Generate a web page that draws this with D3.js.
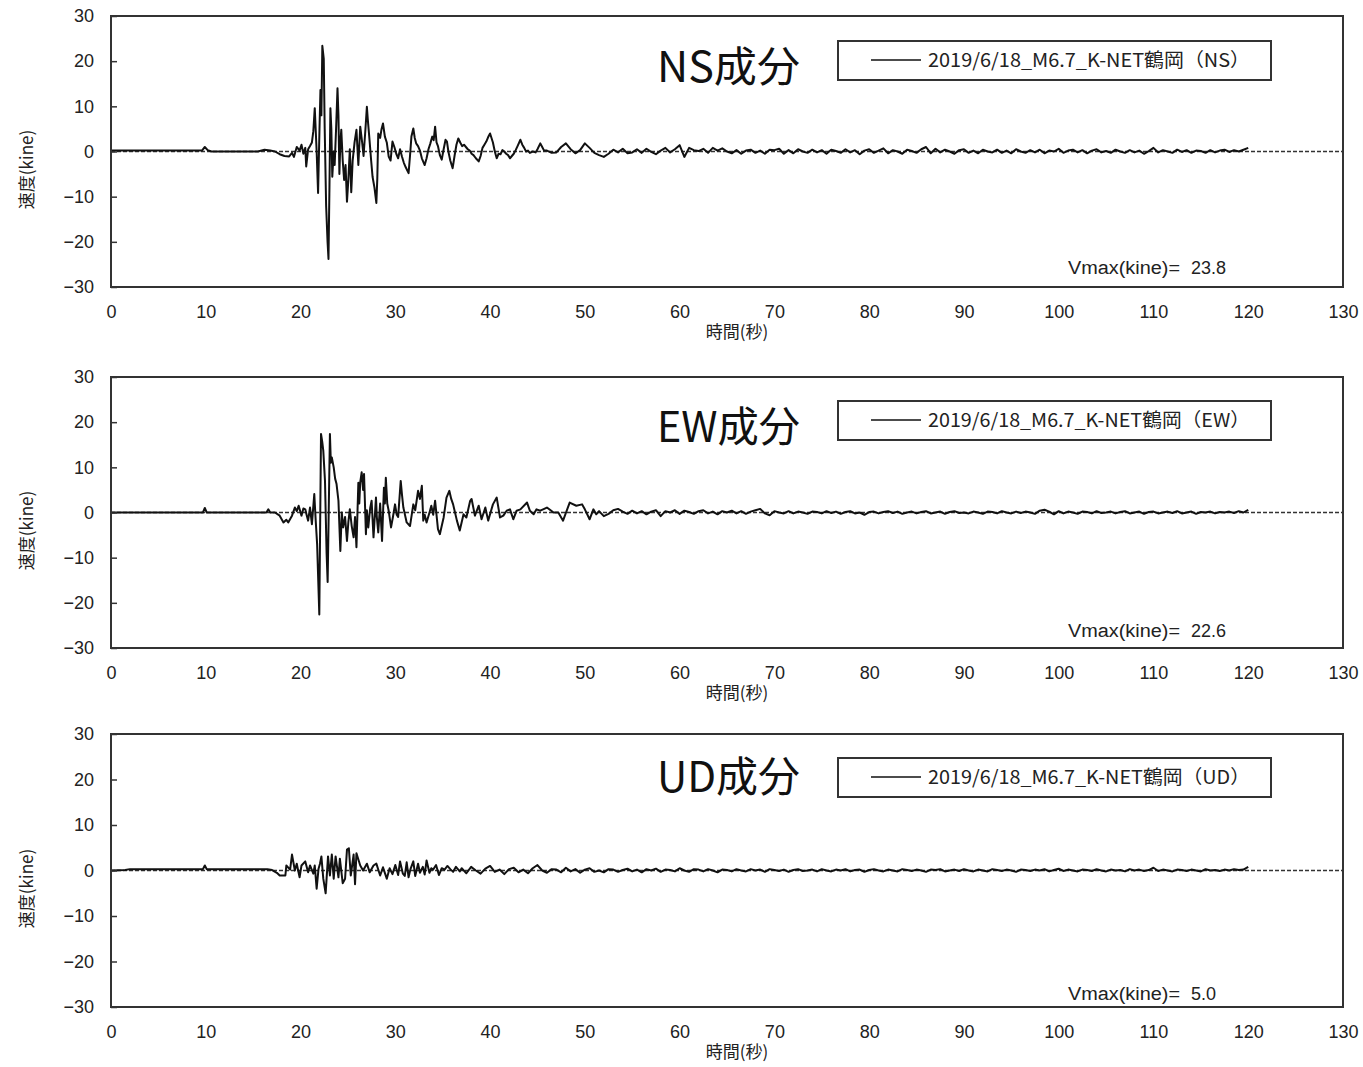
<!DOCTYPE html>
<html>
<head>
<meta charset="utf-8">
<script src="https://cdn.jsdelivr.net/npm/d3@7"></script>
<style>
  html, body { margin: 0; padding: 0; background: #fff; }
  svg { display: block; }
  .tick text { font-family: "Liberation Sans", Arial, sans-serif; font-size: 18px; fill: #222; }
</style>
</head>
<body>
<svg id="chart" width="1363" height="1067"></svg>
<script>
// ---- axis settings ----
const xTicks = [0, 10, 20, 30, 40, 50, 60, 70, 80, 90, 100, 110, 120, 130];
const yTicks = [-30, -20, -10, 0, 10, 20, 30];
const components = ["NS", "EW", "UD"];
const stationLabel = "2019/6/18_M6.7_K-NET鶴岡";
const xTitle = "時間(秒)";
const yTitle = "速度(kine)";
const codaStep = 0.5; // seconds between coda samples

// ---- NS velocity (kine) ----
const nsMain = [
  [0,0.2],[9.6,0.2],[9.9,1.0],[10.2,0.3],[10.6,0.0],[15.5,0.0],[16.2,0.4],[16.8,0.2],[17.3,0.0],
  [17.8,-0.6],[18.3,-1.0],[18.8,-1.1],[19.1,-0.3],[19.3,-1.2],[19.6,1.0],[19.9,0.2],[20.1,1.5],
  [20.3,-0.5],[20.5,0.8],[20.6,-3.3],[20.8,0.5],[21.0,1.2],[21.2,2.0],[21.35,4.5],[21.5,9.6],
  [21.7,0.0],[21.85,-9.2],[22.0,5],[22.1,13.6],[22.2,8],[22.3,23.4],[22.45,20.5],[22.55,5],
  [22.7,-12],[22.85,-20],[22.95,-23.8],[23.05,-8],[23.15,9.6],[23.25,5],[23.35,-5.6],[23.5,0],
  [23.6,-3],[23.75,5],[23.9,14],[24.0,8],[24.1,-5],[24.2,2],[24.3,4.8],[24.45,-2],[24.6,-6.3],
  [24.75,-3],[24.9,-11.1],[25.05,-6],[25.2,0.5],[25.35,-9],[25.5,-2],[25.7,2],[25.9,4.8],
  [26.1,-3],[26.3,5.5],[26.5,2],[26.65,-1],[26.85,5],[27.0,9.9],[27.1,7],[27.25,3.3],[27.45,-2],
  [27.6,-5.6],[27.8,-8],[28.0,-11.4],[28.1,-6],[28.2,4],[28.4,3],[28.55,5],[28.7,6.2],[28.9,3.3],
  [29.1,2],[29.3,-1.1],[29.5,-2],[29.7,2.2],[29.9,1],[30.1,-0.5],[30.3,-1.5],[30.5,0.5],
  [30.7,-1.1],[30.9,-2.5],[31.1,-3.5],[31.4,-4.8],[31.55,-1],[31.7,3.3],[31.9,5.1],[32.05,3],
  [32.2,1.8],[32.4,1.2],[32.6,0.2],[32.8,-1.5],[33.1,-3],[33.3,-1.5],[33.5,0.5],[33.7,1.8],
  [33.9,3.3],[34.05,2.5],[34.2,5.5],[34.35,2],[34.5,1.2],[34.7,-0.8],[34.9,-1.8],[35.1,0.5],
  [35.3,2.6],[35.45,2.2],[35.6,0],[35.8,-2],[36.05,-3.7],[36.25,-1],[36.45,1.5],[36.65,2.9],
  [36.85,2],[37.05,1.2],[37.25,1.5],[37.45,1],[37.65,0.5],[37.85,0.2],[38.05,-0.5],[38.25,-0.8],
  [38.5,-1.5],[38.8,-2.2],[39.0,-1],[39.2,0.8],[39.4,1.5],[39.6,2.2],[39.8,3.2],[40.0,4.0],
  [40.15,3],[40.3,2],[40.5,0],[40.7,-1.5],[40.9,-0.5],[41.1,-0.6],[41.3,0.3],[41.5,0],[41.7,-0.5],
  [41.9,-0.8],[42.1,-1.5],[42.3,-1],[42.5,-0.5],[42.7,0.3],[42.9,1.2],[43.2,2.6],[43.4,1.5],
  [43.6,0.8],[43.8,0],[44.0,0.2],[44.2,-0.3],[44.5,0.0],[44.8,-0.2],[45.0,0.5],[45.3,1.8],
  [45.5,1.0],[45.7,0.2]
];
const nsCodaStart = 46;
const nsCoda = [
  0.2, -0.3, -0.2, 1.0, 1.8, 0.5, -0.4, 0.3, 1.8, 0.8,
  -0.3, -0.8, -1.2, -0.5, 0.4, -0.2, 0.6, -0.4, -0.2, 0.5,
  -0.3, 0.6, -0.1, -0.6, 0.2, 0.8, -0.2, 0.5, 1.4, -1.2,
  0.8, 0.3, 0.1, 0.6, -0.3, 0.8, 0.2, 0.7, 0.0, -0.4,
  0.3, -0.5, 0.2, 0.4, -0.3, 0.2, -0.5, 0.4, 0.3, 0.6,
  -0.5, 0.3, -0.4, 0.5, 0.0, -0.3, 0.4, -0.2, 0.3, -0.5,
  0.4, 0.1, -0.3, 0.5, -0.2, 0.3, -0.6, 0.2, 0.5, -0.3,
  0.2, 0.7, -0.4, 0.3, 0.0, -0.5, 0.4, 0.1, -0.3, 0.5,
  1.0, -0.4, 0.6, -0.2, 0.4, 0.0, -0.5, 0.3, 0.5, -0.3,
  0.2, -0.4, 0.4, 0.0, -0.2, 0.4, -0.3, 0.2, -0.4, 0.5,
  0.0, -0.3, 0.3, -0.2, 0.4, -0.4, 0.2, 0.0, 0.6, -0.3,
  0.2, 0.4, -0.2, 0.3, -0.4, 0.2, 0.5, -0.2, 0.1, -0.3,
  0.4, 0.0, -0.3, 0.3, -0.2, 0.2, -0.5, 0.1, 0.8, -0.2,
  0.3, 0.0, -0.3, 0.4, -0.1, 0.3, -0.3, 0.2, 0.1, -0.3,
  0.3, -0.2, 0.2, 0.4, -0.1, 0.3, 0.0, 0.4, 0.8
];

// ---- EW velocity (kine) ----
const ewMain = [
  [0,0],[9.7,0],[9.9,1.0],[10.1,0],[16.4,0],[16.6,0.7],[16.8,0],[17.3,0],[17.8,-0.7],[18.2,-2.2],
  [18.5,-1.6],[18.7,-2.2],[19.1,-0.7],[19.4,1.1],[19.6,0.3],[19.8,1.5],[20.1,-0.7],[20.3,0.9],
  [20.5,0.7],[20.65,-0.6],[20.8,-1.8],[21.0,1.1],[21.2,-2.6],[21.45,4.1],[21.6,-1.8],[21.75,-7],
  [21.98,-22.6],[22.16,17.4],[22.3,15.5],[22.4,13.7],[22.58,7],[22.75,-9],[22.86,-15.4],
  [23.1,17.4],[23.2,11],[23.3,12.2],[23.5,10],[23.65,7.5],[23.8,6.3],[24.0,2.6],[24.2,-8.5],
  [24.35,0],[24.5,-3.3],[24.7,-1],[24.9,-6.3],[25.05,-2],[25.2,0.7],[25.4,-3],[25.6,-5.5],
  [25.75,-1],[25.9,-7.7],[26.1,6.6],[26.2,2],[26.3,6.7],[26.45,8.9],[26.6,5],[26.7,8.5],
  [26.9,-4.8],[27.0,0.5],[27.15,-3.3],[27.35,1],[27.5,2.6],[27.7,-5.5],[27.96,3.3],[28.05,-1],
  [28.2,-4.4],[28.4,2],[28.6,-6.3],[28.8,5.5],[28.9,2],[29.0,7.7],[29.15,2],[29.3,0.4],
  [29.55,-3.3],[29.75,-1],[29.97,1.8],[30.15,-0.5],[30.3,-1],[30.57,7],[30.7,4],[30.85,1.1],
  [31.2,-2.2],[31.55,-3],[31.9,1.8],[32.1,0.5],[32.25,2.6],[32.4,4.8],[32.6,3],[32.8,5.9],
  [32.95,-1.8],[33.1,-0.5],[33.3,-2.2],[33.66,0.4],[33.8,1.5],[34.0,-0.5],[34.2,2.6],[34.5,-3.7],
  [34.7,-4.8],[35.1,-1.1],[35.4,3.3],[35.7,4.8],[35.9,3],[36.1,1.8],[36.5,-1.8],[36.8,-4],
  [37.2,-0.4],[37.5,-1.1],[37.9,2.6],[38.05,3],[38.4,-0.7],[38.8,1.5],[39.1,-1.5],[39.5,1.1],
  [39.8,-1.8],[40.3,1.8],[40.7,3.3],[41.05,-1.1],[41.4,-0.7],[41.75,0.4],[42.1,0.7],[42.45,-1.5],
  [42.8,0.4],[43.2,0.7],[43.9,2.2],[44.2,0.4],[44.6,-0.4],[44.9,0.7],[45.3,0.4],[46.0,1.1],
  [46.7,0],[47.2,0],[47.7,-1.8],[48.4,2.2],[49.1,1.5],[49.7,1.8],[50.0,0.7],[50.5,-1.5],
  [50.9,0.7],[51.2,-0.4]
];
const ewCodaStart = 51.5;
const ewCoda = [
  0.3, -0.8, -0.3, 0.5, 0.8, 0.2, -0.3, 0.4, -0.2, 0.3,
  -0.4, 0.2, 0.5, -0.8, 0.3, 0.0, 0.5, -0.3, 0.4, 0.1,
  -0.3, 0.3, 0.5, -0.2, 0.2, -0.4, 0.3, 0.0, 0.4, -0.2,
  0.3, -0.3, 0.2, 0.5, 0.8, -0.2, -0.6, 0.3, 0.0, -0.2,
  0.3, -0.2, 0.2, 0.0, -0.3, 0.2, 0.1, -0.2, 0.3, -0.1,
  0.2, -0.3, 0.1, 0.3, -0.2, 0.0, -0.5, 0.1, 0.2, -0.2,
  0.1, 0.3, -0.1, 0.2, -0.3, 0.0, 0.2, -0.2, 0.1, 0.3,
  -0.2, 0.0, 0.2, -0.3, 0.1, 0.3, -0.1, 0.0, -0.2, 0.2,
  0.0, -0.3, 0.2, 0.1, -0.2, 0.3, 0.0, -0.2, 0.2, -0.1,
  0.2, 0.0, -0.3, 0.4, 0.6, 0.2, -0.4, 0.3, -0.2, 0.2,
  0.0, -0.3, 0.2, 0.1, -0.2, 0.3, -0.1, 0.0, 0.2, -0.2,
  0.1, 0.3, -0.2, 0.0, 0.2, -0.3, 0.1, 0.2, -0.2, 0.0,
  0.2, -0.1, 0.3, -0.2, 0.0, 0.2, -0.3, 0.1, 0.0, 0.2,
  -0.2, 0.1, 0.0, 0.2, -0.1, 0.3, 0.0, 0.6
];

// ---- UD velocity (kine) ----
const udMain = [
  [0,0],[1.5,0.1],[2.0,0.3],[9.7,0.3],[9.9,1.1],[10.1,0.3],[16.5,0.3],[17.0,0.1],[17.5,-0.5],
  [17.8,-1.1],[18.4,-1.1],[18.5,1.1],[18.9,0.2],[19.1,3.5],[19.4,0],[19.6,1.5],[19.9,-1.5],
  [20.1,1.1],[20.5,2],[20.8,-0.4],[21.0,1.1],[21.35,-0.7],[21.5,1.1],[21.7,-4],[21.9,0.4],
  [22.05,1.5],[22.2,3.1],[22.4,-1.8],[22.65,-5.0],[22.9,3.1],[23.1,-1.1],[23.3,3.5],[23.5,-1.8],
  [23.7,3.1],[24.0,-1.5],[24.15,2.6],[24.45,-2.8],[24.7,-1.8],[24.9,4.6],[25.1,4.9],[25.3,-1.1],
  [25.6,3.5],[25.75,-3],[25.9,3.8],[26.3,1.1],[26.6,0],[27.0,1.5],[27.3,-0.4],[27.7,1.1],
  [28.0,1.5],[28.4,-1.1],[28.7,0.7],[29.1,-1.8],[29.4,0.5],[29.7,-0.8],[30.0,1.2],[30.3,-1.0],
  [30.5,2.0],[30.8,-0.7],[31.0,-1.2],[31.2,1.8],[31.4,-1.5],[31.6,0.3],[31.9,2.0],[32.1,-1.2],
  [32.4,1.5],[32.6,-0.5],[32.9,0.8],[33.1,-0.9],[33.3,2.2],[33.6,-0.5],[33.8,0.5],[34.0,0.2],
  [34.3,1.2],[34.6,-1.0],[34.9,0.5],[35.2,0.2],[35.5,1.0],[35.8,0.3],[36.1,-0.3],[36.4,0.8],
  [36.8,-0.2]
];
const udCodaStart = 37;
const udCoda = [
  0.5, -0.6, 0.8, 0.0, -0.7, 0.4, 1.0, -0.3, 0.2, -0.8,
  0.3, 0.6, -0.4, 0.2, -0.6, 0.5, 1.2, 0.0, -0.5, 0.3,
  0.2, -0.4, 0.6, -0.2, 0.3, -0.5, 0.2, 0.5, -0.3, 0.0,
  -0.4, 0.3, 0.2, -0.3, 0.1, 0.4, -0.2, 0.2, -0.4, 0.3,
  0.0, 0.4, -0.3, 0.2, 0.1, -0.2, 0.5, 0.0, -0.3, 0.3,
  0.2, -0.2, 0.3, 0.0, -0.4, 0.2, 0.1, -0.2, 0.3, 0.0,
  -0.2, 0.3, 0.0, 0.2, -0.3, 0.3, 0.1, -0.1, 0.2, -0.3,
  0.1, 0.3, -0.1, 0.0, 0.2, -0.2, 0.3, 0.0, -0.2, 0.2,
  0.0, 0.3, -0.2, 0.1, 0.2, -0.3, 0.1, 0.3, 0.0, -0.2,
  0.2, 0.0, -0.2, 0.3, 0.1, -0.1, 0.2, 0.0, -0.3, 0.2,
  0.1, 0.3, -0.2, 0.0, 0.2, -0.1, 0.3, 0.0, -0.2, 0.2,
  0.0, -0.2, 0.3, 0.1, -0.1, 0.2, 0.0, -0.3, 0.2, 0.1,
  -0.1, 0.2, 0.0, 0.3, -0.2, 0.1, 0.4, -0.1, 0.2, 0.0,
  -0.2, 0.2, 0.1, -0.1, 0.3, 0.0, -0.2, 0.2, 0.0, 0.1,
  -0.2, 0.3, 0.0, 0.2, -0.1, 0.1, 0.6, -0.1, 0.2, 0.0,
  -0.2, 0.2, 0.1, -0.1, 0.2, 0.0, -0.2, 0.3, 0.0, 0.1,
  -0.1, 0.2, 0.0, 0.3, 0.1, 0.2, 0.8
];

// ---- assemble each trace: [time, velocity] pairs ----
function trace(main, codaStart, coda) {
  return main.concat(coda.map((v, i) => [codaStart + i * codaStep, v]));
}
const series = [
  trace(nsMain, nsCodaStart, nsCoda),
  trace(ewMain, ewCodaStart, ewCoda),
  trace(udMain, udCodaStart, udCoda)
];

// ---- layout of the three stacked panels ----
const panels = [
  { top: 16,  bottom: 287,  titleY: 82,  legendY: 41,  vmaxY: 274 },
  { top: 377, bottom: 648,  titleY: 442, legendY: 401, vmaxY: 637 },
  { top: 734, bottom: 1007, titleY: 792, legendY: 758, vmaxY: 1000 }
];
const left = 111, right = 1343;
const jpFont = '"Noto Sans CJK JP", "Noto Sans", sans-serif';

const svg = d3.select("#chart");
const x = d3.scaleLinear().domain([0, 130]).range([left, right]);

panels.forEach((p, k) => {
  const comp = components[k];
  const data = series[k];
  const y = d3.scaleLinear().domain([-30, 30]).range([p.bottom, p.top]);
  const g = svg.append("g");

  // zero reference line (dashed)
  g.append("line")
    .attr("x1", x(0)).attr("x2", x(130))
    .attr("y1", y(0)).attr("y2", y(0))
    .attr("stroke", "#333").attr("stroke-width", 1.6)
    .attr("stroke-dasharray", "4,2");

  // velocity trace
  const line = d3.line().x(d => x(d[0])).y(d => y(d[1]));
  g.append("path")
    .datum(data)
    .attr("d", line)
    .attr("fill", "none")
    .attr("stroke", "#111")
    .attr("stroke-width", 2)
    .attr("stroke-linejoin", "round");

  // y axis with inward ticks
  const yAxis = d3.axisLeft(y).tickValues(yTicks).tickSize(-6).tickPadding(17);
  const ya = g.append("g").attr("transform", `translate(${left},0)`).call(yAxis);
  ya.select(".domain").remove();
  ya.selectAll(".tick line").attr("stroke", "#333").attr("stroke-width", 1.5);

  // x axis labels (no tick marks)
  const xAxis = d3.axisBottom(x).tickValues(xTicks).tickSize(0).tickPadding(18);
  const xa = g.append("g").attr("transform", `translate(0,${p.bottom})`).call(xAxis);
  xa.select(".domain").remove();

  // plot frame
  g.append("rect")
    .attr("x", left).attr("y", p.top)
    .attr("width", right - left).attr("height", p.bottom - p.top)
    .attr("fill", "none").attr("stroke", "#333").attr("stroke-width", 2);

  // axis titles
  g.append("text")
    .attr("x", 737).attr("y", p.bottom + 51)
    .attr("text-anchor", "middle")
    .style("font-family", jpFont).style("font-size", "17px").attr("fill", "#222")
    .text(xTitle);
  const midY = (p.top + p.bottom) / 2 + 18;
  g.append("text")
    .attr("transform", `translate(33,${midY}) rotate(-90)`)
    .attr("text-anchor", "middle")
    .style("font-family", jpFont).style("font-size", "17px").attr("fill", "#222")
    .text(yTitle);

  // component title
  g.append("text")
    .attr("x", 657).attr("y", p.titleY)
    .attr("textLength", 143).attr("lengthAdjust", "spacingAndGlyphs")
    .style("font-family", jpFont).style("font-size", "42px").attr("fill", "#111")
    .text(comp + "成分");

  // legend
  const lg = g.append("g");
  lg.append("rect")
    .attr("x", 838).attr("y", p.legendY)
    .attr("width", 433).attr("height", 39)
    .attr("fill", "#fff").attr("stroke", "#333").attr("stroke-width", 2);
  lg.append("line")
    .attr("x1", 871).attr("x2", 921)
    .attr("y1", p.legendY + 19).attr("y2", p.legendY + 19)
    .attr("stroke", "#111").attr("stroke-width", 1.5);
  lg.append("text")
    .attr("x", 928).attr("y", p.legendY + 26)
    .attr("textLength", 322).attr("lengthAdjust", "spacingAndGlyphs")
    .style("font-family", jpFont).style("font-size", "19px").attr("fill", "#222")
    .text(`${stationLabel}（${comp}）`);

  // peak velocity annotation
  const vmax = d3.max(data, d => Math.abs(d[1]));
  g.append("text")
    .attr("x", 1068).attr("y", p.vmaxY)
    .attr("textLength", 112).attr("lengthAdjust", "spacingAndGlyphs")
    .style("font-family", '"Liberation Sans", Arial, sans-serif').style("font-size", "18px").attr("fill", "#222")
    .text("Vmax(kine)=");
  g.append("text")
    .attr("x", 1191).attr("y", p.vmaxY)
    .style("font-family", '"Liberation Sans", Arial, sans-serif').style("font-size", "18px").attr("fill", "#222")
    .text(d3.format(".1f")(vmax));
});
</script>
</body>
</html>
